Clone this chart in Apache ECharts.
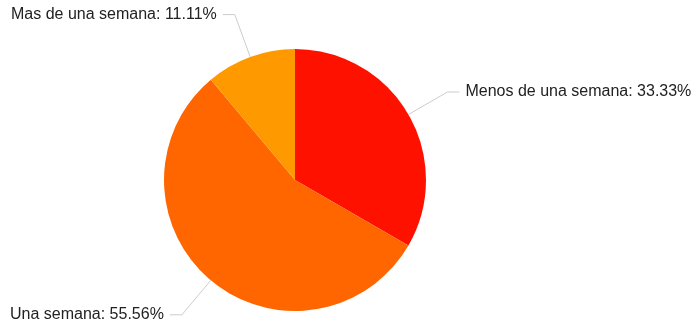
<!DOCTYPE html>
<html>
<head>
<meta charset="utf-8">
<script src="https://cdn.jsdelivr.net/npm/echarts@6/dist/echarts.min.js"></script>
<style>
  html, body { margin: 0; padding: 0; background: #fff; }
  #chart { width: 692px; height: 329px; }
</style>
</head>
<body>
<div id="chart"></div>
<script>
(function() {
  var categories = ['Menos de una semana', 'Una semana', 'Mas de una semana'];
  var counts = [3, 5, 1];
  var colors = ['#ff1100', '#ff6600', '#ff9900'];

  var data = categories.map(function(name, i) {
    return { name: name, value: counts[i], itemStyle: { color: colors[i] } };
  });

  var chart = echarts.init(document.getElementById('chart'), null, { renderer: 'canvas' });
  chart.setOption({
    animation: false,
    series: [{
      type: 'pie',
      center: [295, 180],
      radius: 131,
      startAngle: 90,
      clockwise: true,
      percentPrecision: 2,
      data: data,
      label: {
        show: true,
        formatter: '{b}: {d}%',
        color: '#222',
        fontSize: 16,
        fontFamily: '"Liberation Sans", Arial, sans-serif',
        distanceToLabelLine: 6,
        overflow: 'none',
        edgeDistance: 0
      },
      labelLine: {
        show: true,
        length: 45,
        length2: 12,
        lineStyle: { color: '#cccccc', width: 1 }
      },
      emphasis: { disabled: true }
    }]
  });
  window.addEventListener('resize', function() { chart.resize(); });
})();
</script>
</body>
</html>
